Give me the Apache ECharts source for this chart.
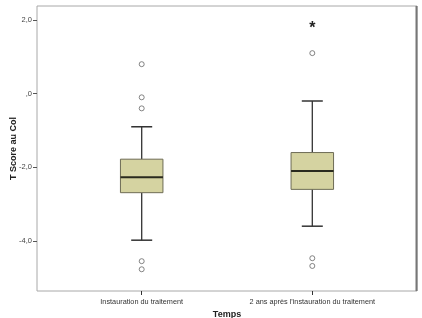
<!DOCTYPE html>
<html>
<head>
<meta charset="utf-8">
<script src="https://cdn.jsdelivr.net/npm/echarts@6/dist/echarts.min.js"></script>
<style>html,body{margin:0;padding:0;background:#fff}#c{width:422px;height:318px}</style>
</head>
<body>
<div id="c"></div>
<script>
const categories = ['Instauration du traitement', "2 ans après l'instauration du traitement"];
const lowerWhisker = [-3.98, -3.60];
const q1 = [-2.69, -2.60];
const median = [-2.27, -2.10];
const q3 = [-1.78, -1.60];
const upperWhisker = [-0.90, -0.20];
const outliers = [[0, 0.80], [0, -0.10], [0, -0.40], [0, -4.55], [0, -4.77], [1, 1.10], [1, -4.47], [1, -4.68]];
const extremes = [[1, 1.85]];
const yTicks = [-4, -2, 0, 2];

const Y_MIN = -5.36, Y_MAX = 2.38;
const font = 'Liberation Sans, Arial, sans-serif';

const boxData = categories.map((c, i) => [i, lowerWhisker[i], q1[i], median[i], q3[i], upperWhisker[i]]);

const chart = echarts.init(document.getElementById('c'), null, {renderer: 'canvas'});
chart.setOption({
  animation: false,
  backgroundColor: '#fff',
  grid: [
    {left: 37, right: 5, top: 6, bottom: 27, show: true, borderColor: '#a8a8a8', borderWidth: 1, backgroundColor: '#fff', containLabel: false, outerBoundsMode: 'none'},
    {left: 56.4, right: 24.4, top: 6, bottom: 27, containLabel: false, outerBoundsMode: 'none'}
  ],
  xAxis: [
    {gridIndex: 0, type: 'value', min: 0, max: 1, show: false},
    {gridIndex: 1, type: 'category', data: categories, boundaryGap: true, position: 'bottom',
     axisLine: {show: false, onZero: false},
     axisTick: {show: true, alignWithLabel: true, length: 4, lineStyle: {color: '#333'}},
     axisLabel: {fontFamily: font, fontSize: 7.3, color: '#333', margin: 7, interval: 0},
     name: 'Temps', nameLocation: 'middle', nameGap: 19, nameMoveOverlap: false,
     nameTextStyle: {fontFamily: font, fontSize: 9, fontWeight: 'bold', color: '#222'}}
  ],
  yAxis: [
    {gridIndex: 0, type: 'value', min: Y_MIN, max: Y_MAX,
     axisLine: {show: false, onZero: false},
     splitLine: {show: false},
     axisTick: {show: true, length: 4, customValues: yTicks, lineStyle: {color: '#555'}},
     axisLabel: {customValues: yTicks, fontFamily: font, fontSize: 7.5, color: '#444', margin: 5,
       formatter: v => v === 0 ? ',0' : v.toFixed(1).replace('.', ',')},
     name: 'T Score au Col', nameLocation: 'middle', nameGap: 19, nameMoveOverlap: false,
     nameTextStyle: {fontFamily: font, fontSize: 9, fontWeight: 'bold', color: '#222'}},
    {gridIndex: 1, type: 'value', min: Y_MIN, max: Y_MAX, show: false}
  ],
  series: [
    {
      type: 'custom', xAxisIndex: 1, yAxisIndex: 1, data: boxData,
      renderItem: function (params, api) {
        const i = api.value(0);
        const lo = api.coord([i, api.value(1)]);
        const b1 = api.coord([i, api.value(2)]);
        const md = api.coord([i, api.value(3)]);
        const b3 = api.coord([i, api.value(4)]);
        const hi = api.coord([i, api.value(5)]);
        const x = lo[0];
        const hw = 21.25, cw = 10.5;
        const ls = {stroke: '#333', lineWidth: 1.3};
        return {type: 'group', children: [
          {type: 'line', shape: {x1: x, y1: hi[1], x2: x, y2: b3[1]}, style: ls},
          {type: 'line', shape: {x1: x, y1: b1[1], x2: x, y2: lo[1]}, style: ls},
          {type: 'line', shape: {x1: x - cw, y1: hi[1], x2: x + cw, y2: hi[1]}, style: {stroke: '#333', lineWidth: 1.5}},
          {type: 'line', shape: {x1: x - cw, y1: lo[1], x2: x + cw, y2: lo[1]}, style: {stroke: '#333', lineWidth: 1.5}},
          {type: 'rect', shape: {x: x - hw, y: b3[1], width: 2 * hw, height: b1[1] - b3[1]},
           style: {fill: '#d5d3a1', stroke: '#6e6c55', lineWidth: 1}},
          {type: 'line', shape: {x1: x - hw, y1: md[1], x2: x + hw, y2: md[1]}, style: {stroke: '#2a2a1e', lineWidth: 2}}
        ]};
      }
    },
    {
      type: 'scatter', xAxisIndex: 1, yAxisIndex: 1, data: outliers,
      symbol: 'circle', symbolSize: 5,
      itemStyle: {color: '#fff', borderColor: '#666', borderWidth: 1}
    },
    {
      type: 'custom', xAxisIndex: 1, yAxisIndex: 1, data: extremes,
      renderItem: function (params, api) {
        const p = api.coord([api.value(0), api.value(1)]);
        return {type: 'text', x: p[0], y: p[1] + 3,
          style: {text: '*', fontFamily: font, fontSize: 16, fontWeight: 'bold', fill: '#222', align: 'center', verticalAlign: 'middle'}};
      }
    }
  ],
  graphic: [
    {type: 'line', shape: {x1: 416.5, y1: 6, x2: 416.5, y2: 291}, style: {stroke: '#777', lineWidth: 2}, z: 100}
  ]
});
</script>
</body>
</html>
